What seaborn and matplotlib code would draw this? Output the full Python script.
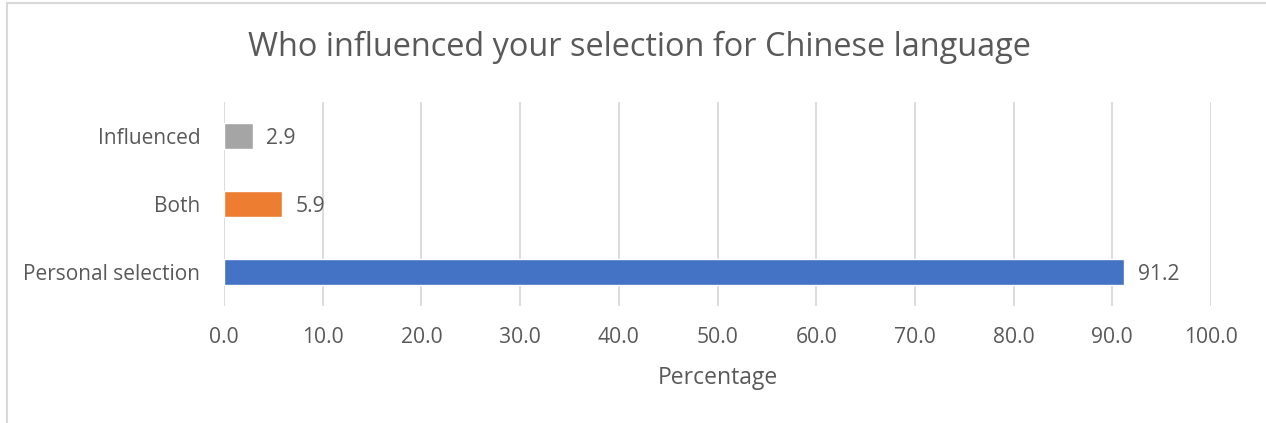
import matplotlib
matplotlib.use("Agg")
import matplotlib.pyplot as plt
import matplotlib.patches as mpatches
import seaborn as sns
import pandas as pd

# Survey responses: who influenced the choice of Chinese language
categories = ["Influenced", "Both", "Personal selection"]
percentages = [2.9, 5.9, 91.2]
bar_colors = ["#A5A5A5", "#ED7D31", "#4472C4"]
x_ticks = [0, 10, 20, 30, 40, 50, 60, 70, 80, 90, 100]

sns.set_theme(style="white")
plt.rcParams["font.family"] = ["Open Sans", "DejaVu Sans"]

text_color = "#595959"
grid_color = "#D9D9D9"
label_size = 15.2

df = pd.DataFrame({"category": categories, "pct": percentages})

fig = plt.figure(figsize=(12.66, 4.23), dpi=100)
ax = fig.add_axes([224 / 1266, 1 - 306 / 423, (1211 - 224) / 1266, 204 / 423])

sns.barplot(data=df, y="category", x="pct", hue="category", palette=bar_colors,
            order=categories, hue_order=categories, width=0.37, legend=False,
            saturation=1, ax=ax)

ax.set_xlim(0, 100)
ax.set_ylim(2.5, -0.5)
ax.set_xticks(x_ticks)
ax.set_xticklabels([f"{v:.1f}" for v in x_ticks])
ax.xaxis.grid(True, color=grid_color, linewidth=1.3)
ax.set_axisbelow(True)
for s in ax.spines.values():
    s.set_visible(False)
ax.tick_params(axis="x", length=0, pad=15, labelsize=label_size, labelcolor=text_color)
ax.tick_params(axis="y", length=0, pad=17, labelsize=15, labelcolor=text_color)
ax.set_ylabel("")
ax.set_xlabel("Percentage", fontsize=16.5, color=text_color, labelpad=13)

for i, v in enumerate(percentages):
    ax.text(v + 1.4, i, f"{v:.1f}", va="center_baseline", ha="left",
            fontsize=label_size, color=text_color)

fig.text(639 / 1266, 1 - 47 / 423, "Who influenced your selection for Chinese language",
         ha="center", va="center", fontsize=23.4, color=text_color)

# Chart frame
frame = mpatches.Rectangle((7 / 1266, -0.1), 1.2, 1 - 3 / 423 + 0.1,
                           transform=fig.transFigure, fill=False,
                           edgecolor="#D9D9D9", linewidth=1.5)
fig.patches.append(frame)

fig.savefig("out.png", dpi=100)
